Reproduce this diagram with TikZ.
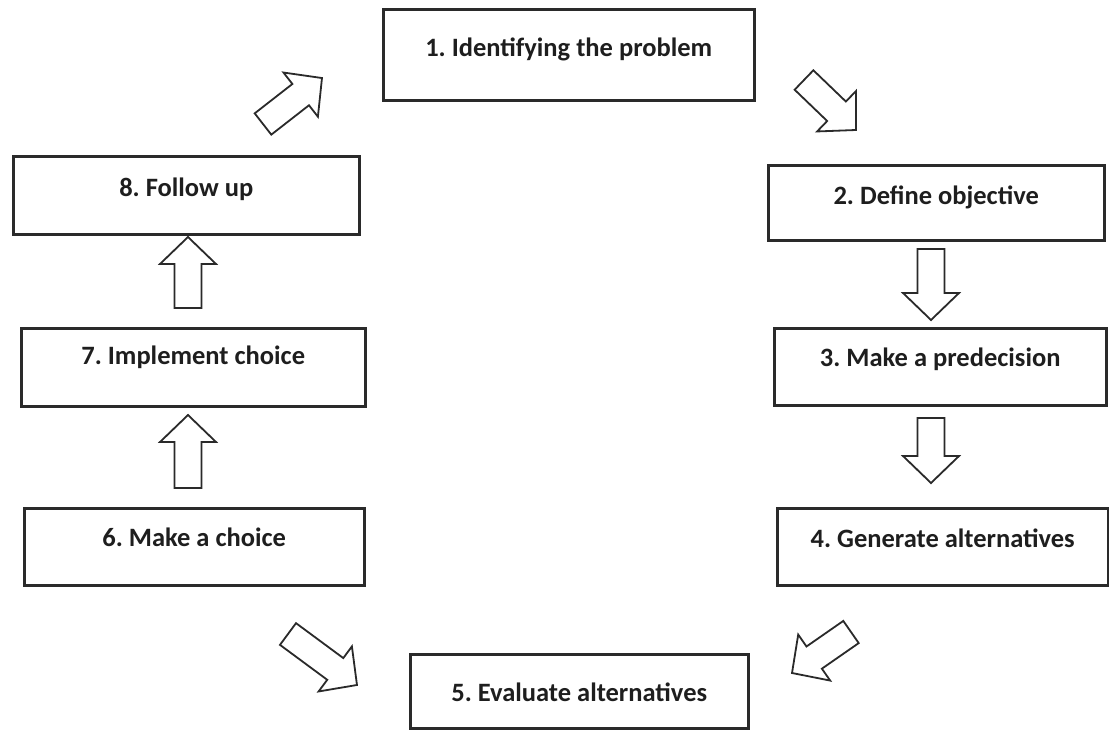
\documentclass[tikz,border=0pt]{standalone}
\usepackage{fontspec}
\setmainfont{Carlito}
\usetikzlibrary{calc}
\frenchspacing

\definecolor{inkline}{HTML}{2A2A2A}
\definecolor{inktext}{HTML}{1E1E1E}

\tikzset{
  stepbox/.style={draw=inkline, line width=2.5pt, fill=white, inner sep=0pt,
    anchor=north west, align=center, text=inktext,
    font=\fontsize{26.5}{31}\selectfont\bfseries},
  barrow/.style={draw=inkline, line width=1.8pt, fill=white, line join=miter},
}

% one process step: name, x, y (top-left), width, height, text height, text depth, label
\newcommand\processstep[8]{%
  \node[stepbox, minimum width=#4pt, minimum height=#5pt,
        text height=#6pt, text depth=#7pt] (#1) at (#2,#3) {#8};}

% hollow block arrow from the tail coordinate #1 to the tip coordinate #2
\newcommand\blockarrow[2]{%
  \path let \p1=($(#2)-(#1)$), \n1={atan2(\y1,\x1)}, \n2={veclen(\x1,\y1)} in
    \pgfextra{\xdef\arrang{\n1}\xdef\arrlen{\n2}};
  \begin{scope}[shift={(#1)}, rotate=\arrang]
    \draw[barrow] (0,-13.5) -- ({\arrlen-27},-13.5) -- ({\arrlen-27},-28)
      -- (\arrlen,0) -- ({\arrlen-27},28) -- ({\arrlen-27},13.5) -- (0,13.5) -- cycle;
  \end{scope}}

\begin{document}
\begin{tikzpicture}[x=1pt, y=-1pt]
  \useasboundingbox (0,0) rectangle (1109,729);
  \fill[white] (0,0) rectangle (1109,729);

  % the eight steps of the cycle
  \processstep{s1}{382}{8}{371}{91}{47}{44}{1. Identifying the problem}
  \processstep{s2}{767}{164}{336}{75}{39}{36}{2. Define objective}
  \processstep{s3}{773}{327}{332}{77}{38}{39}{3. Make a predecision}
  \processstep{s4}{776}{507}{331}{77}{39}{38}{4. Generate alternatives}
  \processstep{s5}{409}{653}{338}{74}{47}{27}{5. Evaluate alternatives}
  \processstep{s6}{23}{507}{340}{77}{38}{39}{6. Make a choice}
  \processstep{s7}{20}{327}{344}{78}{36}{42}{7. Implement choice}
  \processstep{s8}{12}{155}{346}{78}{40}{38}{8. Follow up}

  % tails and tips of the block arrows between the steps
  \coordinate (t12) at (804,80);  \coordinate (h12) at (856,130);
  \coordinate (t23) at (931,249); \coordinate (h23) at (931,320);
  \coordinate (t34) at (931,418); \coordinate (h34) at (931,483);
  \coordinate (t45) at (851,632); \coordinate (h45) at (792,673);
  \coordinate (t65) at (288,634); \coordinate (h65) at (357,685);
  \coordinate (t67) at (188,488); \coordinate (h67) at (188,415);
  \coordinate (t78) at (188,308); \coordinate (h78) at (188,237);
  \coordinate (t81) at (263,124); \coordinate (h81) at (322,78);

  \blockarrow{t12}{h12}
  \blockarrow{t23}{h23}
  \blockarrow{t34}{h34}
  \blockarrow{t45}{h45}
  \blockarrow{t65}{h65}
  \blockarrow{t67}{h67}
  \blockarrow{t78}{h78}
  \blockarrow{t81}{h81}
\end{tikzpicture}
\end{document}
